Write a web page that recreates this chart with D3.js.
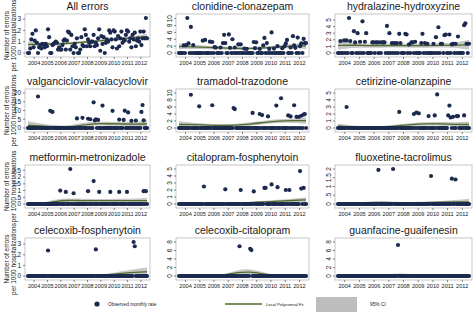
<!DOCTYPE html>
<html><head><meta charset="utf-8">
<script src="https://cdn.jsdelivr.net/npm/d3@7"></script>
<style>body{margin:0;background:#fff}svg{display:block}text{font-family:"Liberation Sans",Arial,sans-serif;fill:#1a1a1a}</style>
</head><body><svg id="c" width="474" height="322"></svg>
<script>
// ---------- DATA ----------
const yearLabels = ["2004","2005","2006","2007","2008","2009","2010","2011","2012"];
const knotMonths = [0,12,24,36,48,60,72,84,96,107];
const panelTitles = ["All errors","clonidine-clonazepam","hydralazine-hydroxyzine","valganciclovir-valacyclovir","tramadol-trazodone","cetirizine-olanzapine","metformin-metronizadole","citalopram-fosphenytoin","fluoxetine-tacrolimus","celecoxib-fosphenytoin","celecoxib-citalopram","guanfacine-guaifenesin"];
const yTickValues = [[0,1,2,3],[0,2,4,6,8,10],[0,1,2,3,4,5],[0,5,10,15,20],[0,2,4,6,8,10],[0,1,2,3,4,5],[0,0.5,1,1.5,2,2.5],[0,1,2,3,4,5],[0,0.5,1,1.5,2],[0,1,2,3],[0,2,4,6,8],[0,2,4,6,8]];
const yTickLabels = [["0","1","2","3"],["0","2","4","6","8","10"],["0","1","2","3","4","5"],["0","5","10","15","20"],["0","2","4","6","8","10"],["0","1","2","3","4","5"],["0",".5","1","1.5","2","2.5"],["0","1","2","3","4","5"],["0",".5","1","1.5","2"],["0","1","2","3"],["0","2","4","6","8"],["0","2","4","6","8"]];

const allErrors = [
0,0,0.4,1.2,1.7,0.5,1.1,2.0,0.9,0.0,0.5,0.7,
0.4,0.8,0.7,0.5,0.8,0.6,2.1,1.4,0.0,0.0,0.7,0.8,
0.9,1.0,0.9,0.3,0.5,0.3,0.3,0.7,1.1,1.2,0.3,1.1,
1.9,1.8,0.3,1.6,0.6,0.0,0.8,0.5,1.3,0.0,0.0,0.3,
1.4,0.7,0.6,2.1,1.6,0.6,1.2,0.9,0.6,1.0,1.0,1.6,
0.6,0.9,0.7,1.3,2.1,0.2,1.5,0.8,1.4,0.0,0.9,1.2,
1.0,2.0,1.8,1.2,0.5,2.0,1.9,1.2,0.4,1.5,0.6,1.3,
1.9,0.9,1.2,1.1,1.6,2.0,1.9,1.0,1.3,0.5,1.6,1.2,
1.8,0.6,1.1,1.3,1.0,1.9,0.7,1.3,1.9,1.3,3.1,1.3];
const clonidineClonazepam = [
0,0,0,0,2.2,0,2.3,10.2,2.8,0,7.6,0,
2.3,0,0,0,0,0,0,0,3.6,0,3.8,0,
0,0,3.3,0,3.2,0,1.7,1.6,0,0,0,1.6,
0,2.9,5.3,2.9,0,0,5.4,1.5,0,4.0,0,1.6,
0,0,2.5,0,2.5,0,0,1.3,0,1.2,0,0,
0,0,0,3.2,1.4,3.1,0,0,1.2,0,0,2.2,
4.4,0,2.9,0,1.2,0,6.0,0,1.3,0,0,2.0,
0,0,0,1.4,0,2.0,2.8,3.8,0,0,1.6,0,
4.9,2.2,1.5,0,4.5,0,2.0,2.8,0,4.1,2.9,2.9];
const hydralazineHydroxyzine = [
0,0,1.8,0,0,1.9,0,1.9,0,5.3,1.8,0,
0,3.3,1.6,0,3.0,0,1.7,0,4.8,0,1.7,3.0,
0,0,0,0,1.6,1.6,0,1.6,1.6,0,1.6,0,
1.6,1.6,1.6,0,4.1,0,3.0,0,1.5,0,1.5,0,
1.5,0,2.9,1.5,0,0,0,2.9,2.8,0,1.3,0,
1.6,1.6,0,1.7,0,0,0,0,1.5,2.9,0,1.5,
0,1.4,0,0,0,0,1.4,0,2.4,0,3.9,0,
1.4,1.4,0,2.7,2.8,0,0,2.8,0,1.3,1.4,0,
1.4,0,2.5,0,0,0,0,4.2,4.5,1.4,0,1.4];
const valganciclovirValacyclovir = [
0,0,0,0,0,0,0,0,0,18,0,0,
0,0,0,0,0,0,0,0,9.8,0,9.2,0,
0,0,0,0,0,0,0,0,0,0,0,0,
0,0,0,0,0,0,0,0,5.5,0,0,0,
0,5.8,0,0,0,0,5.3,0,5.0,0,0,14.7,
4.3,4.9,0,4.6,0,0,0,12.8,0,0,0,0,
0,0,0,0,9.8,0,0,0,0,0,4.8,0,
0,0,4.6,9.9,0,0,8.9,0,0,4.1,0,0,
0,4.3,0,0,0,0,9.2,13.1,4.4,0,0,0];
const tramadolTrazodone = [
0,0,0,0,0,0,0,0,0,0,9.5,0,
0,0,0,0,0,6.2,0,0,0,0,0,0,
0,0,0,0,6.5,0,0,0,0,0,0,0,
0,0,0,0,0,0,0,0,0,0,5.7,5.4,
0,0,0,0,0,0,0,0,0,0,0,0,
0,0,4.3,0,0,0,0,0,4.0,0,3.7,0,
0,0,0,3.3,0,0,0,0,0,0,6.4,0,
0,0,8.5,0,0,0,0,0,3.6,0,3.3,0,
0,6.5,0,3.2,0,3.2,0,3.5,0,3.8,4.0,0];
const cetirizineOlanzapine = [
0,0,0,0,0,0,0,3.0,0,0,0,0,
0,0,0,0,0,0,0,0,0,0,0,0,
0,0,0,0,0,0,0,0,0,0,0,0,
0,0,0,0,0,0,0,0,0,0,0,0,
0,0,2.3,0,0,0,0,0,0,0,0,0,
0,0,2.0,0,2.2,0,2.1,0,0,0,0,0,
0,0,1.7,0,0,0,0,1.8,0,4.8,0,0,
0,0,0,0,0,0,1.8,3.2,1.5,0,1.6,0,
0,1.7,1.7,0,0,0,0,1.8,0,0,0,0];
const metforminMetronizadole = [
0,0,0,0,0,0,0,0,0,0,0,0,
0,0,0,0,0,0,0,0,0,0,0,0,
0,0,0,0,0,1.0,0,0,0,0,0.9,0,
0,0,2.6,0,0,0.8,0,0,0,0,0,0,
0,0,0,0,0,0,0.95,0,0,0,0,1.7,
0,0,0,0,0.9,0,0,0,0,0,0,0,
0,0,0.9,0,0,0,0,0,0,0,0.9,0,
0,0,0,0,0,0.9,0,0,0,0,0,0,
0,0,0,0,0,0,0,0,0.95,0,0.95,0];
const citalopramFosphenytoin = [
0,0,0,0,0,0,0,0,0,0,0,0,
0,0,0,0,0,0,0,0,0,2.5,0,0,
0,0,0,0,0,0,0,0,0,0,0,0,
0,0,0,2.1,0,0,0,0,0,0,0,0,
0,0,0,0,2.0,0,0,0,0,0,0,0,
0,0,0,1.8,0,0,0,0,0,0,0,0,
2.3,2.3,0,0,0,0,2.8,0,0,0,0,2.4,
0,0,0,0,0,0,2.0,0,0,2.0,0,0,
0,0,0,0,0,0,4.7,2.2,0,2.3,0,0];
const fluoxetineTacrolimus = [
0,0,0,0,0,0,0,0,0,0,0,0,
0,0,0,0,0,0,0,0,0,0,0,0,
0,0,0,0,0,0,0,0,0,1.95,0,0,
0,0,0,0,0,0,0,0,0,2.0,0,0,
0,0,0,0,0,0,0,0,0,0,0,0,
0,0,0,0,0,0,0,0,0,0,0,0,
0,0,0,0,1.6,0,0,0,0,0,0,0,
0,0,0,0,0,0,0,0,0,1.45,0,0,
1.4,0,0,0,0,0,0,0,0,0,0,0];
const celecoxibFosphenytoin = [
0,0,0,0,0,0,0,0,0,0,0,0,
0,0,0,0,0,0,2.4,0,0,0,0,0,
0,0,0,0,0,0,0,0,0,0,0,0,
0,0,0,0,0,0,0,0,0,0,0,0,
0,0,0,0,0,0,0,0,0,0,0,0,
0,2.5,0,0,0,0,0,0,0,0,0,0,
0,0,0,0,0,0,0,0,0,0,0,0,
0,0,0,0,0,0,0,0,0,0,0,3.2,
2.8,0,0,0,0,0,0,0,0,0,0,0];
const celecoxibCitalopram = [
0,0,0,0,0,0,0,0,0,0,0,0,
0,0,0,0,0,0,0,0,0,0,0,0,
0,0,0,0,0,0,0,0,0,0,0,0,
0,0,0,0,0,0,0,0,0,0,0,0,
0,0,0,7.0,0,0,0,0,0,0,0,0,
6.4,6.1,0,0,0,0,0,0,0,0,0,0,
0,0,0,0,0,0,0,0,0,0,0,0,
0,0,0,0,0,0,0,0,0,0,0,0,
0,0,0,0,0,0,0,0,0,0,0,0];
const guanfacineGuaifenesin = [
0,0,0,0,0,0,0,0,0,0,0,0,
0,0,0,0,0,0,0,0,0,0,0,0,
0,0,0,0,0,0,0,0,0,0,0,0,
0,0,0,0,0,0,0,0,0,0,0,0,
0,7.3,0,0,0,0,0,0,0,0,0,0,
0,0,0,0,0,0,0,0,0,0,0,0,
0,0,0,0,0,0,0,0,0,0,0,0,
0,0,0,0,0,0,0,0,0,0,0,0,
0,0,0,0,0,0,0,0,0,0,0,0];

// local polynomial fit and 95% CI, read at knotMonths
const fitLines = [
[0.75,0.8,0.8,0.85,0.95,1.05,1.15,1.25,1.35,1.45],
[1.9,1.8,1.6,1.5,1.3,1.3,1.5,1.8,2.0,2.1],
[1.15,1.2,1.1,1.1,1.15,1.1,1.1,1.15,1.2,1.25],
[1.5,1.2,0.6,0.5,1.5,2.6,2.4,2.3,2.2,2.3],
[1.0,1.0,0.8,0.7,0.8,1.1,1.6,2.0,2.1,2.1],
[0.3,0.15,0.1,0.1,0.3,0.5,0.6,0.6,0.5,0.5],
[0,0,0.2,0.28,0.25,0.25,0.25,0.25,0.25,0.25],
[0,0.02,0.05,0.05,0.1,0.2,0.3,0.4,0.5,0.6],
[0,0.03,0.08,0.1,0.08,0.06,0.08,0.1,0.12,0.12],
[0.05,0.08,0.05,0.04,0.05,0.05,0.1,0.25,0.35,0.4],
[0,0,0,0.05,0.8,1.05,0.4,0.05,0,0],
[0,0,0,0.05,0.3,0.2,0.03,0,0,0]];
const ciLow = [
[0.5,0.65,0.68,0.73,0.84,0.94,1.03,1.12,1.2,1.2],
[1.1,1.2,1.1,1.0,0.9,0.9,1.1,1.3,1.4,1.2],
[0.5,0.8,0.8,0.8,0.85,0.8,0.8,0.85,0.8,0.5],
[-0.8,0,0,0,0.5,1.5,1.3,1.2,1.0,0.3],
[0.1,0.5,0.4,0.3,0.4,0.6,1.1,1.5,1.5,1.2],
[0,-0.05,-0.05,-0.05,0.1,0.3,0.35,0.35,0.2,0.1],
[-0.05,-0.05,0.05,0.15,0.12,0.12,0.12,0.12,0.12,0.08],
[-0.05,-0.03,0,0,0.05,0.1,0.2,0.25,0.3,0.3],
[-0.03,-0.02,0.03,0.05,0.03,0.02,0.03,0.04,0.04,0],
[-0.05,0,0,0,0,0,0.02,0.1,0.15,0.1],
[0,0,0,0,0.3,0.4,0.1,0,0,0],
[0,0,0,-0.05,0,0,-0.03,0,0,0]];
const ciHigh = [
[1.0,0.95,0.92,0.97,1.06,1.16,1.27,1.38,1.5,1.7],
[2.8,2.4,2.1,2.0,1.7,1.7,1.9,2.3,2.6,3.0],
[1.8,1.6,1.4,1.4,1.45,1.4,1.4,1.45,1.6,2.0],
[3.8,2.6,1.5,1.3,2.7,3.8,3.5,3.4,3.5,4.5],
[1.9,1.5,1.2,1.1,1.2,1.6,2.1,2.5,2.7,3.0],
[0.6,0.35,0.25,0.25,0.5,0.75,0.85,0.85,0.8,0.9],
[0.05,0.05,0.35,0.42,0.38,0.38,0.38,0.38,0.4,0.45],
[0.05,0.07,0.1,0.12,0.2,0.3,0.45,0.6,0.75,0.95],
[0.03,0.08,0.14,0.16,0.13,0.11,0.14,0.17,0.22,0.3],
[0.15,0.15,0.1,0.08,0.1,0.1,0.2,0.45,0.65,0.8],
[0,0,0,0.2,1.4,1.75,0.8,0.1,0,0],
[0,0,0,0.2,0.7,0.5,0.1,0,0,0]];

const seriesValues = [allErrors,clonidineClonazepam,hydralazineHydroxyzine,valganciclovirValacyclovir,tramadolTrazodone,cetirizineOlanzapine,metforminMetronizadole,citalopramFosphenytoin,fluoxetineTacrolimus,celecoxibFosphenytoin,celecoxibCitalopram,guanfacineGuaifenesin];
const legendLabels = ["Observed monthly rate","Local Polynomial Fit","95% CI"];

// ---------- LAYOUT ----------
const colLeft = [25,176,335], colRight = [150,309,472];
const rowTop = [14,89,165,238], rowBottom = [57,132,208,280];
const dotColor = "#1b2a4e", fitColor = "#4f6b2c", bandColor = "#bdbdbd";

const svg = d3.select("#c");
const defs = svg.append("defs");

panelTitles.forEach((title, i) => {
  const r = Math.floor(i/3), c = i%3;
  const L = colLeft[c], R = colRight[c], T = rowTop[r], B = rowBottom[r];
  const vals = seriesValues[i];
  const ticks = yTickValues[i];
  const ymax = Math.max(d3.max(ticks), d3.max(vals));
  const x = d3.scaleLinear().domain([0,107]).range([L+3, R-3]);
  const y = d3.scaleLinear().domain([0,ymax]).range([B-4, T+4]);
  const g = svg.append("g");

  defs.append("clipPath").attr("id","cp"+i).append("rect")
    .attr("x",L).attr("y",T).attr("width",R-L).attr("height",B-T);

  g.append("rect").attr("x",L).attr("y",T).attr("width",R-L).attr("height",B-T)
    .attr("fill","#fff").attr("stroke","#b8b8b8").attr("stroke-width",0.8);

  const pg = g.append("g").attr("clip-path","url(#cp"+i+")");
  const knots = knotMonths.map((m,k)=>({m, f:fitLines[i][k], lo:ciLow[i][k], hi:ciHigh[i][k]}));
  pg.append("path").datum(knots)
    .attr("d", d3.area().curve(d3.curveBasis).x(d=>x(d.m)).y0(d=>y(d.lo)).y1(d=>y(d.hi)))
    .attr("fill",bandColor).attr("opacity",0.85);
  pg.append("path").datum(knots)
    .attr("d", d3.line().curve(d3.curveBasis).x(d=>x(d.m)).y(d=>y(d.f)))
    .attr("fill","none").attr("stroke",fitColor).attr("stroke-width",1.3);
  pg.selectAll("circle").data(vals).join("circle")
    .attr("cx",(d,k)=>x(k)).attr("cy",d=>y(d)).attr("r",2.1).attr("fill",dotColor);

  // title
  g.append("text").attr("x",(L+R)/2).attr("y",T-4).attr("text-anchor","middle")
    .attr("font-size",10.5).text(title);

  // y axis
  ticks.forEach((t,k)=>{
    g.append("line").attr("x1",L-2).attr("x2",L).attr("y1",y(t)).attr("y2",y(t)).attr("stroke","#333").attr("stroke-width",0.6);
    if (c===0) {
      g.append("text").attr("x",L-4).attr("y",y(t)+2.3).attr("text-anchor","end").attr("font-size",6.5).text(yTickLabels[i][k]);
    } else {
      g.append("text").attr("transform",`translate(${L-4},${y(t)}) rotate(-90)`).attr("text-anchor","middle")
        .attr("font-size",6.5).text(yTickLabels[i][k]);
    }
  });
  // x axis
  yearLabels.forEach((lab,k)=>{
    const xx = x(12*k+5.5);
    g.append("line").attr("x1",xx).attr("x2",xx).attr("y1",B).attr("y2",B+2).attr("stroke","#333").attr("stroke-width",0.6);
    g.append("text").attr("x",xx).attr("y",B+8).attr("text-anchor","middle").attr("font-size",5.6).text(lab);
  });

  if (c===0) {
    const cy = (T+B)/2;
    g.append("text").attr("transform",`translate(9,${cy}) rotate(-90)`).attr("text-anchor","middle").attr("font-size",6.5).text("Number of errors");
    g.append("text").attr("transform",`translate(16,${cy}) rotate(-90)`).attr("text-anchor","middle").attr("font-size",6.5).text("per 1000 hospitalizations");
  }
});

// legend
const lg = svg.append("g");
lg.append("circle").attr("cx",97).attr("cy",304).attr("r",2.6).attr("fill",dotColor);
lg.append("text").attr("x",108).attr("y",305.5).attr("font-size",4.8).text(legendLabels[0]);
lg.append("line").attr("x1",225).attr("x2",262).attr("y1",304).attr("y2",304).attr("stroke",fitColor).attr("stroke-width",1.5);
lg.append("text").attr("x",266).attr("y",305.5).attr("font-size",4.2).text(legendLabels[1]);
lg.append("rect").attr("x",316).attr("y",297).attr("width",41).attr("height",15).attr("fill",bandColor);
lg.append("text").attr("x",370).attr("y",305.5).attr("font-size",4.8).text(legendLabels[2]);
</script></body></html>
